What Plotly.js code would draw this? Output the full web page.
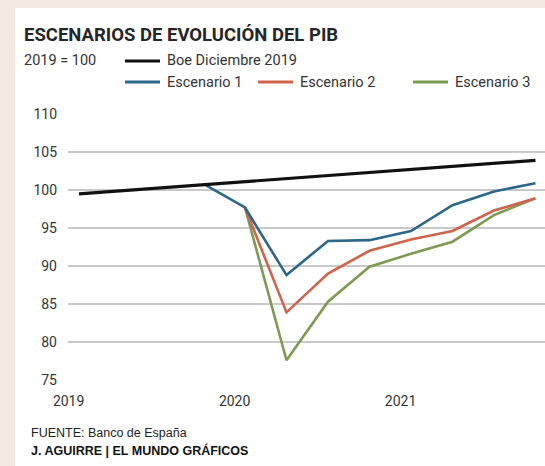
<!DOCTYPE html>
<html>
<head>
<meta charset="utf-8">
<script src="https://cdn.plot.ly/plotly-3.0.1.min.js"></script>
<style>
  html, body { margin: 0; padding: 0; background: #f2e9e0; width: 545px; height: 466px; overflow: hidden; }
  #chart { position: absolute; left: 15px; top: 8px; width: 530px; height: 458px; background: #ffffff; }
</style>
</head>
<body>
<div id="chart"></div>
<script>
// Quarterly index, 2019 Q1 .. 2021 Q4
const quarters = [0, 1, 2, 3, 4, 5, 6, 7, 8, 9, 10, 11];
const yearTickVals = [-0.25, 3.75, 7.75];
const yearTickText = ["2019", "2020", "2021"];

const boeDic2019 = [99.5, 99.9, 100.4, 100.8, 101.2, 101.6, 101.9, 102.3, 102.7, 103.1, 103.5, 103.9];
const escenario1 = [null, null, null, 100.8, 97.7, 88.8, 93.3, 93.4, 94.6, 98.0, 99.8, 100.9];
const escenario2 = [null, null, null, null, 97.7, 83.9, 89.0, 92.0, 93.5, 94.6, 97.3, 98.9];
const escenario3 = [null, null, null, null, 97.7, 77.6, 85.3, 89.9, 91.6, 93.2, 96.7, 98.9];

const names = ["Boe Diciembre 2019", "Escenario 1", "Escenario 2", "Escenario 3"];
const colors = ["#111111", "#2c6689", "#d0634c", "#7e9b56"];

const FONT = "Roboto, 'Liberation Sans', Arial, sans-serif";
const FOOT = "'Liberation Sans', Arial, sans-serif";

function line(y, i, w) {
  return {
    x: quarters, y: y, type: "scatter", mode: "lines", name: names[i],
    line: { color: colors[i], width: w }, connectgaps: false,
    showlegend: false, hoverinfo: "skip"
  };
}

const data = [
  line(escenario3, 3, 2.6),
  line(escenario2, 2, 2.6),
  line(escenario1, 1, 2.6),
  line(boeDic2019, 0, 3.2)
];

// plot area in div pixels: x 53..530, y 106..372
const W = 477, H = 266;
function px(x) { return (x - 53) / W; }
function py(y) { return (372 - y) / H; }

const legendRows = [
  { i: 0, x0: 110, y: 53 },
  { i: 1, x0: 110, y: 74 },
  { i: 2, x0: 243, y: 74 },
  { i: 3, x0: 398, y: 74 }
];

const shapes = legendRows.map(r => ({
  type: "line", xref: "paper", yref: "paper",
  x0: px(r.x0), x1: px(r.x0 + 35), y0: py(r.y), y1: py(r.y),
  line: { color: colors[r.i], width: 3 }
}));

const annotations = [
  { text: "<b>ESCENARIOS DE EVOLUCIÓN DEL PIB</b>", x: px(7), y: py(27), xanchor: "left", yanchor: "middle",
    font: { family: FONT, size: 18.5, color: "#262626" } },
  { text: "2019 = 100", x: px(7), y: py(53), xanchor: "left", yanchor: "middle",
    font: { family: FONT, size: 14.5, color: "#333333" } }
].concat(legendRows.map(r => ({
  text: names[r.i], x: px(r.x0 + 40), y: py(r.y), xanchor: "left", yanchor: "middle",
  font: { family: FONT, size: 14.5, color: "#333333" }
}))).concat([
  { text: "FUENTE: Banco de España", x: px(14), y: py(425), xanchor: "left", yanchor: "middle",
    font: { family: FOOT, size: 12.5, color: "#222222" } },
  { text: "<b>J. AGUIRRE | EL MUNDO GRÁFICOS</b>", x: px(14), y: py(442), xanchor: "left", yanchor: "middle",
    font: { family: FOOT, size: 12.5, color: "#111111" } }
]).map(a => Object.assign({ xref: "paper", yref: "paper", showarrow: false }, a));

const layout = {
  width: 530, height: 458,
  margin: { l: 53, r: 0, t: 106, b: 86, pad: 0 },
  paper_bgcolor: "#ffffff", plot_bgcolor: "#ffffff",
  showlegend: false,
  font: { family: FONT, size: 14, color: "#333333" },
  xaxis: {
    range: [-0.265, 11.23], showgrid: false, zeroline: false, showline: false,
    tickmode: "array", tickvals: yearTickVals, ticktext: yearTickText,
    ticks: "", ticklabelstandoff: 11, tickfont: { family: FONT, size: 14, color: "#333333" },
    fixedrange: true
  },
  yaxis: {
    range: [75, 110], tickmode: "array", tickvals: [75, 80, 85, 90, 95, 100, 105, 110],
    showgrid: true, gridcolor: "#c9c9c9", gridwidth: 1.3, zeroline: false, showline: false,
    ticks: "", ticklabelstandoff: 10, tickfont: { family: FONT, size: 14, color: "#333333" },
    fixedrange: true
  },
  shapes: shapes,
  annotations: annotations
};

Plotly.newPlot("chart", data, layout, { staticPlot: true, displayModeBar: false });
</script>
</body>
</html>
